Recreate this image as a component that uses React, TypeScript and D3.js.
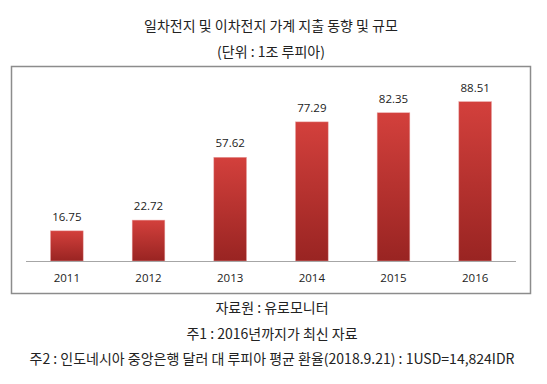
import React from "react";
import * as d3 from "d3";

// chart data
const years = ["2011", "2012", "2013", "2014", "2015", "2016"];
const spending = [16.75, 22.72, 57.62, 77.29, 82.35, 88.51];
const titleLines = ["일차전지 및 이차전지 가계 지출 동향 및 규모", "(단위 : 1조 루피아)"];
const noteLines = [
  "자료원 : 유로모니터",
  "주1 : 2016년까지가 최신 자료",
  "주2 : 인도네시아 중앙은행 달러 대 루피아 평균 환율(2018.9.21) : 1USD=14,824IDR",
];

const W = 547;
const H = 384;
const KR = "'Noto Sans CJK KR', 'Noto Sans', sans-serif";
const LBL = "'Open Sans', 'DejaVu Sans', sans-serif";

const App = () => {
  // plot area
  const left = 26, right = 516, base = 261;

  const x = d3.scaleBand().domain(years).range([left, right]).paddingInner(0.6).paddingOuter(0.3);
  const y = d3.scaleLinear().domain([0, 100]).range([base, 81]);

  return (
    <svg width={W} height={H} style={{ position: "absolute", left: 0, top: 0, background: "#fff" }}>
      <defs>
        <linearGradient id="barFill" x1="0" y1="0" x2="0" y2="1">
          <stop offset="0%" stopColor="#d3403c" />
          <stop offset="100%" stopColor="#992422" />
        </linearGradient>
      </defs>

      {titleLines.map((t, i) => (
        <text key={t} x={271} y={31 + i * 26} textAnchor="middle" fontFamily={KR} fontSize={14} fill="#222">
          {t}
        </text>
      ))}

      {/* chart frame */}
      <rect x={11.5} y={66.5} width={519} height={227} fill="#fff" stroke="#8c8c8c" strokeWidth={1.5} />

      {years.map((yr, i) => {
        const v = spending[i];
        const bx = x(yr) as number;
        return (
          <g key={yr}>
            <rect x={bx} y={y(v)} width={x.bandwidth()} height={base - y(v)} fill="url(#barFill)" stroke="#e8a0a0" strokeWidth={0.5} />
            <text x={bx + x.bandwidth() / 2} y={y(v) - 10} textAnchor="middle" fontFamily={LBL} fontSize={11.5} fill="#222">
              {d3.format(".2f")(v)}
            </text>
            <text x={bx + x.bandwidth() / 2} y={282} textAnchor="middle" fontFamily={LBL} fontSize={11.5} fill="#222">
              {yr}
            </text>
          </g>
        );
      })}

      {/* baseline */}
      <line x1={left} x2={right} y1={base + 0.5} y2={base + 0.5} stroke="#a6a6a6" strokeWidth={1} />

      {noteLines.map((t, i) => (
        <text key={t} x={272} y={313 + i * 25.5} textAnchor="middle" fontFamily={KR} fontSize={14} fill="#222">
          {t}
        </text>
      ))}
    </svg>
  );
};

export default App;
